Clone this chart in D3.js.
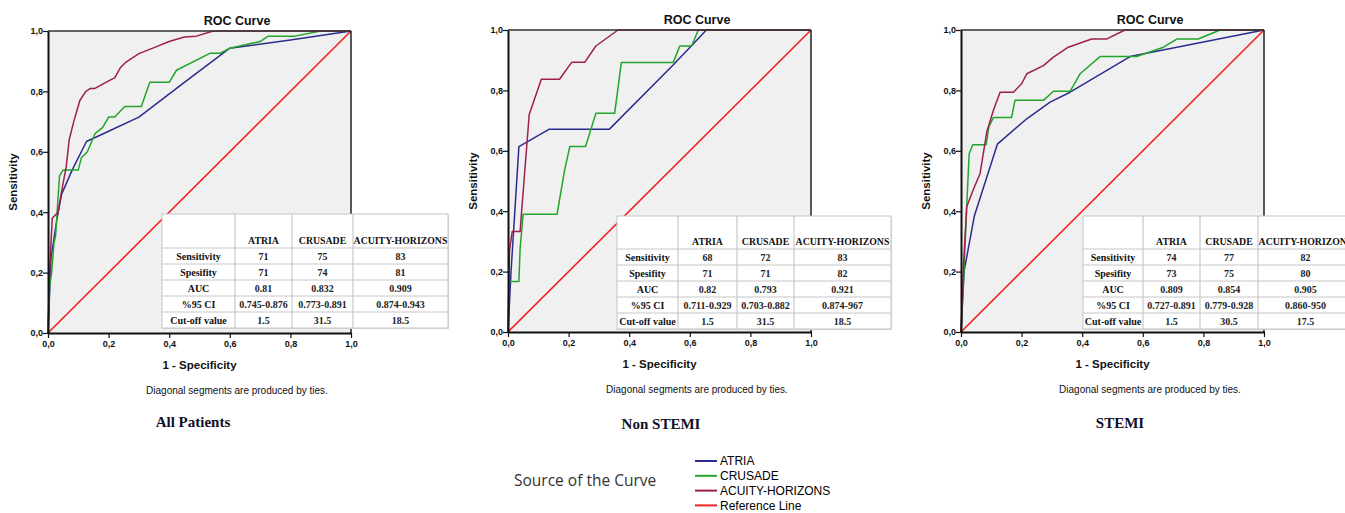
<!DOCTYPE html>
<html>
<head>
<meta charset="utf-8">
<script src="https://cdn.jsdelivr.net/npm/d3@7"></script>
<style>
  body { margin: 0; background: #fff; }
  svg { display: block; }
</style>
</head>
<body>
<svg id="chart" width="1345" height="513"></svg>
<script>
/*****************************************************************************/
/* Data: ROC points [1 - specificity, sensitivity] */
/*****************************************************************************/
const curveNames = ["ATRIA", "CRUSADE", "ACUITY-HORIZONS"];
const panelNames = ["All Patients", "Non STEMI", "STEMI"];
const tickValues = [0, 0.2, 0.4, 0.6, 0.8, 1.0];

const allAtria = [[0,0],[0.01,0.25],[0.03,0.38],[0.045,0.46],[0.08,0.54],[0.127,0.634],[0.2,0.668],[0.3,0.715],[0.45,0.83],[0.6,0.943],[0.8,0.97],[1,1]];
const allCrusade = [[0,0],[0.005,0.15],[0.012,0.2],[0.02,0.3],[0.025,0.32],[0.03,0.4],[0.038,0.52],[0.05,0.54],[0.1,0.54],[0.11,0.58],[0.13,0.6],[0.155,0.66],[0.18,0.68],[0.2,0.715],[0.22,0.715],[0.253,0.75],[0.308,0.75],[0.336,0.83],[0.4,0.83],[0.424,0.87],[0.534,0.926],[0.567,0.926],[0.6,0.943],[0.677,0.96],[0.7,0.965],[0.727,0.983],[0.815,0.983],[0.9,1],[1,1]];
const allAcuity = [[0,0],[0.005,0.2],[0.014,0.38],[0.033,0.4],[0.045,0.47],[0.06,0.55],[0.07,0.64],[0.085,0.7],[0.105,0.77],[0.125,0.8],[0.14,0.81],[0.155,0.81],[0.2,0.835],[0.22,0.845],[0.24,0.88],[0.255,0.895],[0.3,0.925],[0.35,0.945],[0.4,0.965],[0.45,0.98],[0.49,0.983],[0.545,1],[1,1]];

const nonAtria = [[0,0],[0.01,0.2],[0.036,0.614],[0.135,0.671],[0.334,0.671],[0.545,0.884],[0.655,1],[1,1]];
const nonCrusade = [[0,0],[0.003,0.167],[0.036,0.167],[0.04,0.278],[0.05,0.39],[0.162,0.39],[0.187,0.537],[0.204,0.614],[0.256,0.614],[0.29,0.724],[0.352,0.724],[0.374,0.892],[0.545,0.892],[0.567,0.947],[0.606,0.947],[0.628,1],[1,1]];
const nonAcuity = [[0,0],[0.005,0.27],[0.014,0.333],[0.04,0.333],[0.045,0.4],[0.07,0.72],[0.11,0.837],[0.17,0.837],[0.21,0.893],[0.253,0.893],[0.29,0.947],[0.363,1],[1,1]];

const stemiAtria = [[0,0],[0.01,0.2],[0.044,0.384],[0.12,0.622],[0.217,0.706],[0.294,0.761],[0.36,0.794],[0.558,0.912],[0.8,0.96],[1,1]];
const stemiCrusade = [[0,0],[0.008,0.16],[0.018,0.4],[0.027,0.59],[0.039,0.62],[0.083,0.62],[0.092,0.68],[0.107,0.71],[0.167,0.71],[0.178,0.767],[0.272,0.767],[0.305,0.797],[0.36,0.797],[0.393,0.855],[0.459,0.912],[0.58,0.912],[0.668,0.943],[0.712,0.97],[0.783,0.97],[0.855,1],[1,1]];
const stemiAcuity = [[0,0],[0.008,0.217],[0.019,0.415],[0.04,0.47],[0.063,0.525],[0.085,0.662],[0.107,0.734],[0.129,0.794],[0.173,0.794],[0.2,0.822],[0.217,0.855],[0.272,0.882],[0.305,0.91],[0.354,0.943],[0.431,0.97],[0.48,0.97],[0.541,1],[1,1]];

/* table values, rows = Sensitivity, Spesifity, AUC, %95 CI, Cut-off value */
const rowLabels = ["Sensitivity", "Spesifity", "AUC", "%95 CI", "Cut-off value"];
const allTable = [["71","75","83"],["71","74","81"],["0.81","0.832","0.909"],["0.745-0.876","0.773-0.891","0.874-0.943"],["1.5","31.5","18.5"]];
const nonTable = [["68","72","83"],["71","71","82"],["0.82","0.793","0.921"],["0.711-0.929","0.703-0.882","0.874-967"],["1.5","31.5","18.5"]];
const stemiTable = [["74","77","82"],["73","75","80"],["0.809","0.854","0.905"],["0.727-0.891","0.779-0.928","0.860-950"],["1.5","30.5","17.5"]];

const legendNames = ["ATRIA", "CRUSADE", "ACUITY-HORIZONS", "Reference Line"];

/*****************************************************************************/
/* Layout / styles */
/*****************************************************************************/
const colors = {"ATRIA": "#2b2d8e", "CRUSADE": "#22a52a", "ACUITY-HORIZONS": "#9e1f4e", "Reference Line": "#ee2424"};

const panels = [
  {curves: [allAtria, allCrusade, allAcuity], table: allTable, name: panelNames[0],
   left: 48, top: 31, tx: 162, ty: 214, cols: [73, 57, 61, 95], head: 34, subX: 193, subY: 427},
  {curves: [nonAtria, nonCrusade, nonAcuity], table: nonTable, name: panelNames[1],
   left: 508, top: 30, tx: 617, ty: 216, cols: [61, 59, 57, 97], head: 33, subX: 661, subY: 429},
  {curves: [stemiAtria, stemiCrusade, stemiAcuity], table: stemiTable, name: panelNames[2],
   left: 961, top: 30, tx: 1083, ty: 216, cols: [60, 57, 58, 95], head: 33, subX: 1120, subY: 428}
];

const W = 303, H = 302, rowH = 16;
const svg = d3.select("#chart");
const sans = "Liberation Sans, Arial, sans-serif";
const serif = "Liberation Serif, Times New Roman, serif";
const fmt = d => d3.format(".1f")(d).replace(".", ",");

panels.forEach(function (p) {
  const g = svg.append("g").attr("transform", "translate(" + p.left + "," + p.top + ")");
  const x = d3.scaleLinear().domain([0, 1]).range([0, W]);
  const y = d3.scaleLinear().domain([0, 1]).range([H, 0]);

  g.append("rect").attr("width", W).attr("height", H).attr("fill", "#f0f0f0");

  // reference line
  g.append("line")
    .attr("x1", x(0)).attr("y1", y(0)).attr("x2", x(1)).attr("y2", y(1))
    .attr("stroke", colors["Reference Line"]).attr("stroke-width", 1.6);

  const line = d3.line().x(d => x(d[0])).y(d => y(d[1]));
  p.curves.forEach(function (c, i) {
    g.append("path").datum(c)
      .attr("d", line)
      .attr("fill", "none")
      .attr("stroke", colors[curveNames[i]])
      .attr("stroke-width", 1.5)
      .attr("stroke-linejoin", "round");
  });

  // frame
  g.append("line").attr("x1", 0).attr("x2", W).attr("y1", 0).attr("y2", 0)
    .attr("stroke", "#333").attr("stroke-width", 1.5);
  g.append("line").attr("x1", W).attr("x2", W).attr("y1", 0).attr("y2", H)
    .attr("stroke", "#222").attr("stroke-width", 1.5);

  const yAxis = g.append("g")
    .call(d3.axisLeft(y).tickValues(tickValues).tickFormat(fmt).tickSize(5).tickSizeOuter(0));
  const xAxis = g.append("g").attr("transform", "translate(0," + H + ")")
    .call(d3.axisBottom(x).tickValues(tickValues).tickFormat(fmt).tickSize(5).tickSizeOuter(0));
  [xAxis, yAxis].forEach(function (a) {
    a.select(".domain").attr("stroke", "#111").attr("stroke-width", 2);
    a.selectAll(".tick line").attr("stroke", "#111").attr("stroke-width", 1.2);
    a.selectAll("text").attr("font-family", sans)
      .attr("font-size", 9).attr("font-weight", "bold").attr("fill", "#111");
  });
  yAxis.selectAll("text").attr("x", -5);
  xAxis.selectAll("text").attr("y", 8);

  // titles
  g.append("text").attr("x", 189).attr("y", -6).attr("text-anchor", "middle")
    .attr("font-family", sans).attr("font-size", 12.5)
    .attr("font-weight", "bold").attr("fill", "#111").text("ROC Curve");
  g.append("text").attr("transform", "translate(-31," + (H / 2) + ") rotate(-90)")
    .attr("text-anchor", "middle").attr("font-family", sans)
    .attr("font-size", 11.5).attr("font-weight", "bold").attr("fill", "#111").text("Sensitivity");
  g.append("text").attr("x", W / 2).attr("y", H + 36).attr("text-anchor", "middle")
    .attr("font-family", sans).attr("font-size", 11.5)
    .attr("font-weight", "bold").attr("fill", "#111").text("1 - Specificity");
  g.append("text").attr("x", 189).attr("y", H + 61).attr("text-anchor", "middle")
    .attr("font-family", sans).attr("font-size", 10)
    .attr("fill", "#111").text("Diagonal segments are produced by ties.");

  svg.append("text").attr("x", p.subX).attr("y", p.subY).attr("text-anchor", "middle")
    .attr("font-family", serif).attr("font-size", 15)
    .attr("font-weight", "bold").attr("fill", "#10102a").text(p.name);

  // stats table
  const t = svg.append("g").attr("transform", "translate(" + p.tx + "," + p.ty + ")");
  const colX = [0];
  p.cols.forEach(w => colX.push(colX[colX.length - 1] + w));
  const rowY = [0, p.head];
  rowLabels.forEach(() => rowY.push(rowY[rowY.length - 1] + rowH));
  const tw = colX[colX.length - 1], th = rowY[rowY.length - 1];

  t.append("rect").attr("x", 1).attr("y", 1).attr("width", tw).attr("height", th).attr("fill", "#d8d8d8");
  t.append("rect").attr("width", tw).attr("height", th).attr("fill", "#fff").attr("stroke", "#c4c4c4");
  colX.slice(1, -1).forEach(cx => t.append("line").attr("x1", cx).attr("x2", cx).attr("y1", 0).attr("y2", th)
    .attr("stroke", "#c8c8c8").attr("stroke-width", 1.2));
  rowY.slice(1, -1).forEach(ry => t.append("line").attr("x1", 0).attr("x2", tw).attr("y1", ry).attr("y2", ry)
    .attr("stroke", "#c8c8c8").attr("stroke-width", 1.2));

  curveNames.forEach(function (n, j) {
    t.append("text").attr("x", (colX[j + 1] + colX[j + 2]) / 2).attr("y", p.head - 4)
      .attr("text-anchor", "middle").attr("font-family", serif).attr("font-size", 9.8)
      .attr("font-weight", "bold").attr("fill", "#111").text(n);
  });
  rowLabels.forEach(function (r, i) {
    const cy = rowY[i + 1] + rowH / 2 + 3.5;
    t.append("text").attr("x", (colX[0] + colX[1]) / 2).attr("y", cy)
      .attr("text-anchor", "middle").attr("font-family", serif).attr("font-size", 10)
      .attr("font-weight", "bold").attr("fill", "#111").text(r);
    p.table[i].forEach(function (v, j) {
      t.append("text").attr("x", (colX[j + 1] + colX[j + 2]) / 2).attr("y", cy)
        .attr("text-anchor", "middle").attr("font-family", serif).attr("font-size", 10)
        .attr("font-weight", "bold").attr("fill", "#222").text(v);
    });
  });
});

/*****************************************************************************/
/* Legend */
/*****************************************************************************/
svg.append("text").attr("x", 514).attr("y", 486)
  .attr("font-family", "Open Sans, sans-serif").attr("font-size", 15.5)
  .attr("fill", "#333").text("Source of the Curve");

const leg = svg.append("g").selectAll("g").data(legendNames).join("g")
  .attr("transform", (d, i) => "translate(695," + (461 + i * 14.8) + ")");
leg.append("line").attr("x1", 0).attr("x2", 22).attr("stroke", d => colors[d]).attr("stroke-width", 2);
leg.append("text").attr("x", 25).attr("y", 4.3)
  .attr("font-family", sans).attr("font-size", 12)
  .attr("fill", "#000").text(d => d);
</script>
</body>
</html>
